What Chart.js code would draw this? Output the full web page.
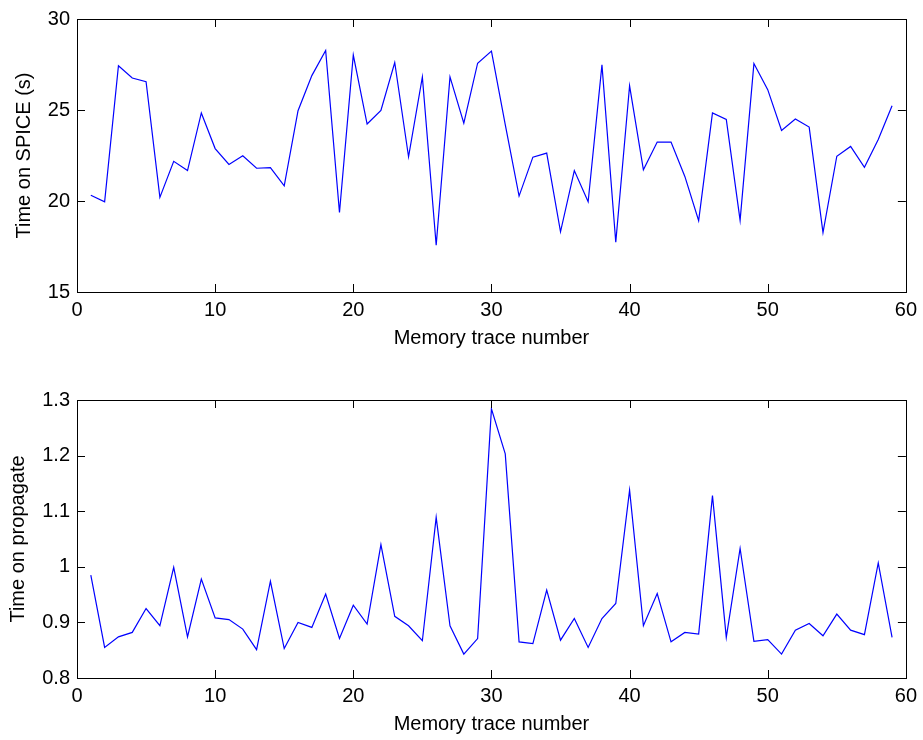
<!DOCTYPE html>
<html>
<head>
<meta charset="utf-8">
<script src="https://cdn.jsdelivr.net/npm/chart.js@4"></script>
<style>
  html, body { margin: 0; padding: 0; background: #fff; }
  .box { position: absolute; left: 0; width: 923px; height: 370px; }
</style>
</head>
<body>
<div class="box" style="top:0"><canvas id="spiceChart" width="923" height="370"></canvas></div>
<div class="box" style="top:370px"><canvas id="propChart" width="923" height="370"></canvas></div>
<script>
const traceNumbers = [1,2,3,4,5,6,7,8,9,10,11,12,13,14,15,16,17,18,19,20,
  21,22,23,24,25,26,27,28,29,30,31,32,33,34,35,36,37,38,39,40,
  41,42,43,44,45,46,47,48,49,50,51,52,53,54,55,56,57,58,59];

const spiceTimes = [20.32,19.95,27.43,26.76,26.56,20.2,22.18,21.67,24.84,22.88,
  22.01,22.48,21.80,21.83,20.83,24.96,26.89,28.27,19.37,28.02,
  24.23,24.98,27.61,22.43,26.82,17.57,26.82,24.28,27.57,28.24,
  24.2,20.27,22.41,22.63,18.31,21.67,19.96,27.48,17.73,26.33,
  21.71,23.24,23.24,21.35,18.92,24.84,24.48,18.94,27.55,26.12,
  23.87,24.51,24.06,18.26,22.46,23.0,21.85,23.38,25.23];

const propagateTimes = [0.985,0.855,0.874,0.882,0.925,0.894,0.999,0.874,0.978,0.908,
  0.905,0.888,0.851,0.974,0.853,0.900,0.891,0.951,0.871,0.931,
  0.897,1.040,0.911,0.894,0.867,1.089,0.894,0.843,0.871,1.284,
  1.203,0.865,0.862,0.958,0.868,0.907,0.855,0.907,0.934,1.138,
  0.894,0.952,0.865,0.882,0.879,1.128,0.873,1.033,0.866,0.869,
  0.843,0.886,0.898,0.876,0.915,0.886,0.878,1.007,0.873];

const xTicks = [0,10,20,30,40,50,60];
const spiceTicks = [15,20,25,30];
const propTicks = [0.8,0.9,1.0,1.1,1.2,1.3];

const FONT = { family: '"Liberation Sans", Arial, Helvetica, sans-serif', size: 20 };

// box + inward ticks on all four sides, like matlab
const frame = {
  id: 'frame',
  afterDraw(chart) {
    const ctx = chart.ctx, a = chart.chartArea;
    const xs = chart.scales.x, ys = chart.scales.y;
    const len = 8;
    ctx.save();
    ctx.strokeStyle = '#000';
    ctx.lineWidth = 1;
    ctx.beginPath();
    xs.ticks.forEach(t => {
      const px = Math.round(xs.getPixelForValue(t.value)) + 0.5;
      ctx.moveTo(px, a.bottom); ctx.lineTo(px, a.bottom - len);
      ctx.moveTo(px, a.top); ctx.lineTo(px, a.top + len);
    });
    ys.ticks.forEach(t => {
      const py = Math.round(ys.getPixelForValue(t.value)) + 0.5;
      ctx.moveTo(a.left, py); ctx.lineTo(a.left + len, py);
      ctx.moveTo(a.right, py); ctx.lineTo(a.right - len, py);
    });
    ctx.stroke();
    ctx.strokeRect(Math.round(a.left) + 0.5, Math.round(a.top) + 0.5,
      Math.round(a.right - a.left), Math.round(a.bottom - a.top));
    ctx.restore();
  }
};

function makeChart(id, values, yTicks, yTitle, opts) {
  return new Chart(document.getElementById(id), {
    type: 'line',
    data: {
      datasets: [{
        data: traceNumbers.map((n, i) => ({ x: n, y: values[i] })),
        borderColor: '#0000ff',
        borderWidth: 1.2,
        pointRadius: 0,
        tension: 0,
        fill: false
      }]
    },
    options: {
      responsive: false,
      animation: false,
      layout: { padding: { top: opts.top, right: 13, left: 0, bottom: 0 } },
      plugins: { legend: { display: false }, tooltip: { enabled: false } },
      scales: {
        x: {
          type: 'linear', min: 0, max: 60,
          afterBuildTicks: s => { s.ticks = xTicks.map(v => ({ value: v })); },
          afterFit: s => { s.height = opts.xHeight; },
          grid: { display: false, drawTicks: false },
          border: { display: false },
          ticks: { color: '#000', font: FONT, padding: 6, maxRotation: 0 },
          title: { display: true, text: 'Memory trace number', color: '#000', font: FONT,
                   padding: { top: 0, bottom: opts.titlePad } }
        },
        y: {
          type: 'linear', min: yTicks[0], max: yTicks[yTicks.length - 1],
          afterBuildTicks: s => { s.ticks = yTicks.map(v => ({ value: v })); },
          afterFit: s => { s.width = 77; },
          grid: { display: false, drawTicks: false },
          border: { display: false },
          ticks: { color: '#000', font: FONT, padding: 7,
                   callback: v => String(+Number(v).toFixed(2)) },
          title: { display: true, text: yTitle, color: '#000', font: FONT,
                   padding: { top: opts.yPad, bottom: 0 } }
        }
      }
    },
    plugins: [frame]
  });
}

makeChart('spiceChart', spiceTimes, spiceTicks, 'Time on SPICE (s)',
  { top: 14, xHeight: 78, titlePad: 20, yPad: 12 });
makeChart('propChart', propagateTimes, propTicks, 'Time on propagate',
  { top: 30, xHeight: 62, titlePad: 4, yPad: 6 });
</script>
</body>
</html>
